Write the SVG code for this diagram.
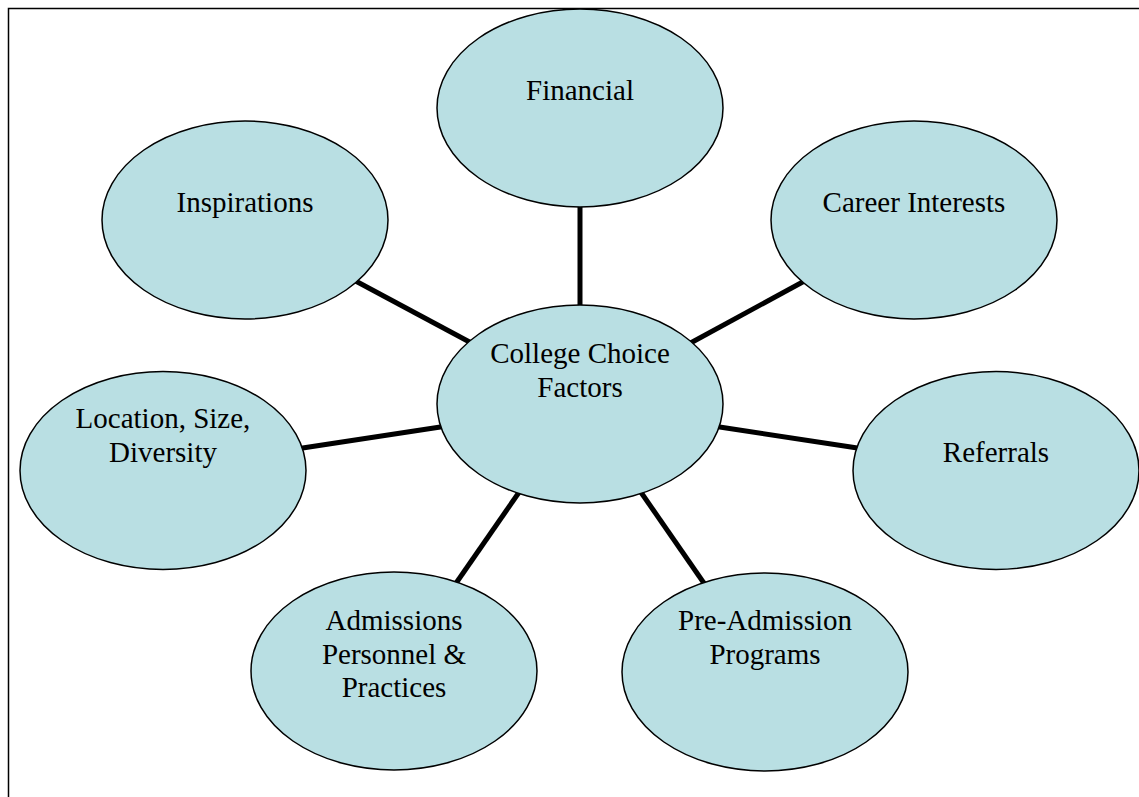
<svg xmlns="http://www.w3.org/2000/svg" width="1139" height="797" viewBox="0 0 1139 797">
<style>
.node{fill:#b9dfe3;stroke:#000;stroke-width:1.5}
.lbl{font-family:"Liberation Serif","Times New Roman",serif;font-size:29px;fill:#000;text-anchor:middle}
.conn{stroke:#000;stroke-width:5;fill:none}
</style>
<rect width="1139" height="797" fill="#fff"/>
<path d="M8.5,800 V8.5 H1142" fill="none" stroke="#000" stroke-width="1.5"/>
<g id="connectors">
<line class="conn" x1="580" y1="200" x2="580" y2="312"/>
<line class="conn" x1="350" y1="278" x2="477" y2="346"/>
<line class="conn" x1="810" y1="278" x2="685" y2="346"/>
<line class="conn" x1="296" y1="449" x2="447" y2="426"/>
<line class="conn" x1="713" y1="426" x2="864" y2="449"/>
<line class="conn" x1="452" y1="589" x2="522" y2="488"/>
<line class="conn" x1="638" y1="488" x2="708" y2="589"/>
</g>
<g id="financial"><ellipse class="node" cx="580" cy="108" rx="143" ry="99"/><text class="lbl" x="580" y="100">Financial</text></g>
<g id="inspirations"><ellipse class="node" cx="245" cy="220" rx="143" ry="99"/><text class="lbl" x="245" y="212">Inspirations</text></g>
<g id="career"><ellipse class="node" cx="914" cy="220" rx="143" ry="99"/><text class="lbl" x="914" y="212">Career Interests</text></g>
<g id="center"><ellipse class="node" cx="580" cy="404" rx="143" ry="99"/><text class="lbl" x="580" y="363">College Choice</text><text class="lbl" x="580" y="397">Factors</text></g>
<g id="location"><ellipse class="node" cx="163" cy="470.5" rx="143" ry="99"/><text class="lbl" x="163" y="428">Location, Size,</text><text class="lbl" x="163" y="462">Diversity</text></g>
<g id="referrals"><ellipse class="node" cx="996" cy="470.5" rx="143" ry="99"/><text class="lbl" x="996" y="462">Referrals</text></g>
<g id="admissions"><ellipse class="node" cx="394" cy="671" rx="143" ry="99"/><text class="lbl" x="394" y="630">Admissions</text><text class="lbl" x="394" y="664">Personnel &amp;</text><text class="lbl" x="394" y="697">Practices</text></g>
<g id="preadmission"><ellipse class="node" cx="765" cy="672" rx="143" ry="99"/><text class="lbl" x="765" y="630">Pre-Admission</text><text class="lbl" x="765" y="664">Programs</text></g>
</svg>
